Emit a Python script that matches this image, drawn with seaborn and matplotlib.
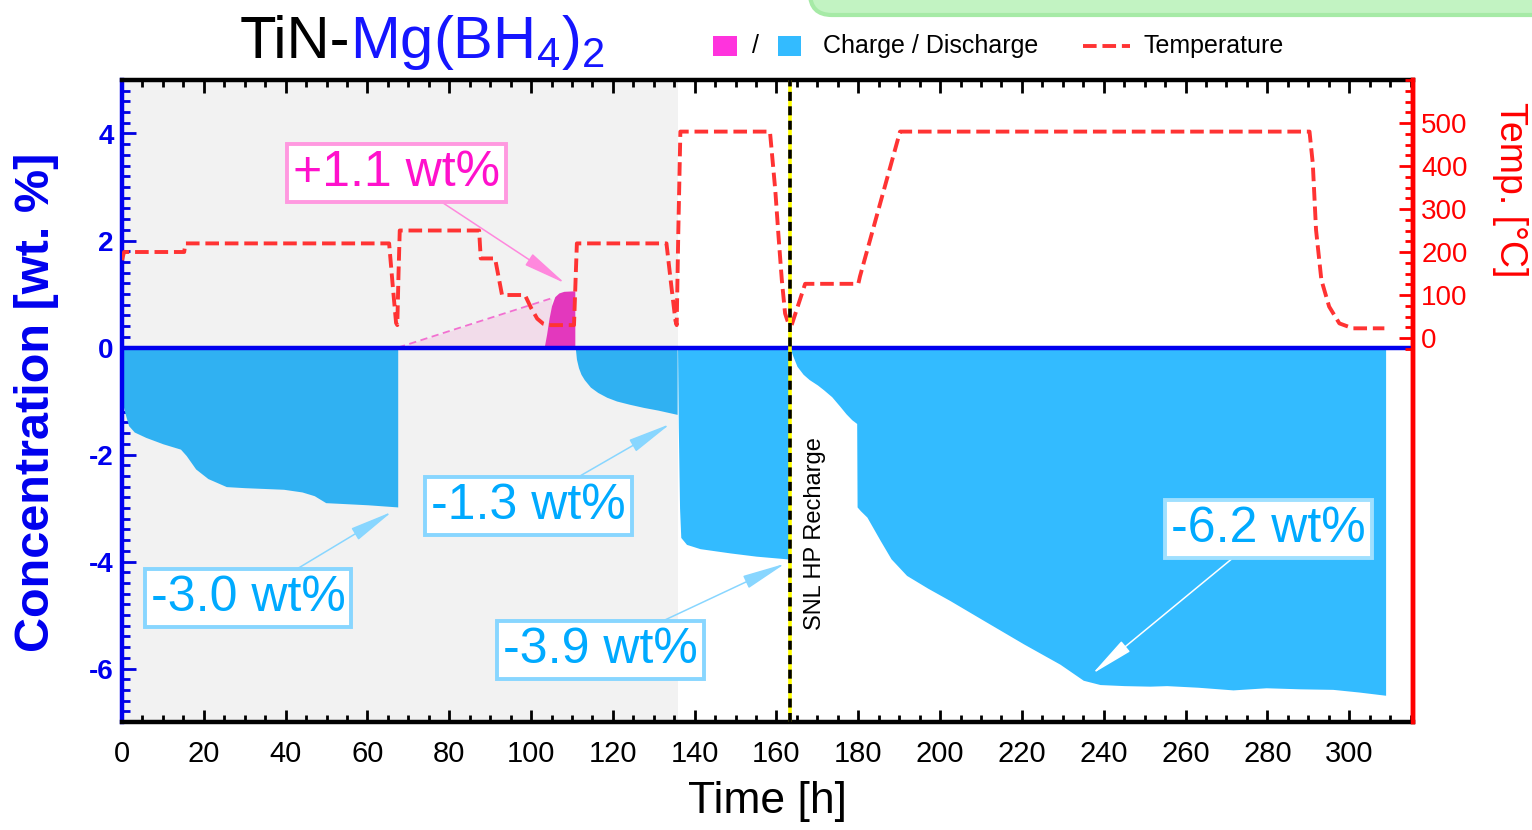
import numpy as np
import matplotlib
matplotlib.use("Agg")
import matplotlib.pyplot as plt
from matplotlib.patches import Rectangle, FancyBboxPatch
from matplotlib.lines import Line2D
from matplotlib.ticker import MultipleLocator, FixedLocator
import seaborn as sns

# ---------------- data ----------------
# discharge (hydrogen release) envelopes, time [h] / concentration [wt.%]
dis1_t = [0, 0.7, 1.6, 3, 5.8, 10, 14.3, 15.7, 18.0, 21, 25.5, 30, 39.5, 44, 47.0, 49.8, 55, 60.1, 67.4]
dis1_c = [-1.0, -1.22, -1.46, -1.58, -1.68, -1.80, -1.90, -2.02, -2.27, -2.45, -2.60, -2.62, -2.65,
          -2.70, -2.77, -2.90, -2.92, -2.94, -2.98]

dis2_t = [110.8, 111.1, 111.6, 112.2, 113, 114.5, 116.3, 118.5, 120.9, 124, 127.5, 131, 135.7]
dis2_c = [0, -0.22, -0.38, -0.5, -0.6, -0.74, -0.84, -0.93, -1.0, -1.06, -1.12, -1.17, -1.25]

dis3_t = [135.8, 136.0, 136.3, 136.6, 138, 141.3, 148.7, 155, 162.5, 163.2]
dis3_c = [0, -1.5, -3.0, -3.55, -3.68, -3.76, -3.84, -3.9, -3.95, -3.96]

dis4_t = [163.3, 164, 165, 166.5, 168, 170, 171.5, 173.5, 175.5, 177, 178.4, 179.6, 179.7, 180.5,
          182.1, 185.3, 188, 191.8, 197, 202.4, 210.6, 220.4, 229.3, 235, 239.1, 245, 251.3, 255.4,
          263, 271.6, 279.7, 288, 296, 302.4, 308.9]
dis4_c = [0, -0.16, -0.35, -0.5, -0.6, -0.7, -0.79, -0.92, -1.1, -1.24, -1.35, -1.42, -2.98, -3.05,
          -3.17, -3.6, -3.95, -4.26, -4.5, -4.73, -5.1, -5.54, -5.92, -6.22, -6.3, -6.32, -6.33,
          -6.32, -6.35, -6.4, -6.36, -6.38, -6.39, -6.44, -6.5]

# charge (hydrogen uptake)
chg_t = [103.2, 103.8, 104.4, 105.0, 105.8, 106.8, 108, 110.7]
chg_c = [0, 0.25, 0.55, 0.78, 0.95, 1.02, 1.05, 1.06]
chg_span_t = [67.5, 105.0]
chg_span_c = [0, 0.92]

# temperature profile, time [h] / temperature [degC]
temp_t = [0, 0.5, 15.2, 15.5, 65.3, 66.2, 67.0, 67.3, 67.6, 67.9, 87.3, 87.7, 91.2, 92.9, 98.5,
          100.0, 101.5, 103, 104.1, 110.5, 110.9, 111.2, 133.1, 134.3, 135.3, 135.6, 136.0, 136.5,
          158.4, 159.7, 160.5, 161.3, 162.1, 162.9, 163.7, 167, 180, 180.4, 190.2, 290.3, 291.1,
          291.9, 293.2, 295.1, 297.6, 300.9, 308.6]
temp_c = [181, 200, 200, 220, 220, 120, 35, 30, 150, 250, 250, 185, 185, 100, 100,
          70, 45, 33, 30, 30, 140, 220, 220, 120, 40, 30, 250, 480,
          480, 344, 236, 135, 57, 34, 30, 126, 126, 143, 480, 480, 406,
          251, 135, 73, 34, 22.5, 22.5]

# annotated capacities: label, text position, arrow tip
label_text = ["+1.1 wt%", "-3.0 wt%", "-1.3 wt%", "-3.9 wt%", "-6.2 wt%"]
label_xy = [(67.2, 3.27), (30.8, -4.69), (99.3, -2.96), (116.9, -5.66), (280.2, -3.39)]
label_tip = [(108.3, 1.2), (66.0, -3.07), (134.0, -1.43), (162.1, -4.04), (237.2, -6.1)]

recharge_t = 163.3
shade_end = 135.8

# ---------------- style ----------------
sns.set_theme(style="white")
plt.rcParams["font.family"] = ["Liberation Sans", "DejaVu Sans"]
plt.rcParams["axes.unicode_minus"] = False
plt.rcParams["mathtext.default"] = "regular"

BLUE_FILL = "#33bbff"
MAGENTA = "#f03cc8"
RED = "#ff3333"
AX_BLUE = "#0000ee"
LBL_BLUE = "#00aaff"

W, H = 1532, 830
fig = plt.figure(figsize=(W / 100, H / 100), dpi=100)
ax = fig.add_axes([122 / W, 1 - 722 / H, (1413 - 122) / W, (722 - 80) / H])

# discharge areas
for t, c in [(dis1_t, dis1_c), (dis2_t, dis2_c), (dis3_t, dis3_c), (dis4_t, dis4_c)]:
    ax.fill_between(t, 0, c, color=BLUE_FILL, lw=0, zorder=2)

# charge areas
ax.fill_between(chg_span_t, 0, chg_span_c, color="#ff66cc", alpha=0.15, lw=0, zorder=2)
ax.plot(chg_span_t, chg_span_c, color="#ff77dd", lw=1.3, ls=(0, (4, 2.5)), zorder=2)
ax.fill_between(chg_t, 0, chg_c, color=MAGENTA, lw=0, zorder=2)

# shaded first-cycles region
ax.axvspan(0, shade_end, color="black", alpha=0.05, lw=0, zorder=2.5)
ax.axhline(0, color=AX_BLUE, lw=3.2, zorder=3)

ax.set_xlim(0, 315.6)
ax.set_ylim(-7, 5)
ax.xaxis.set_major_locator(MultipleLocator(20))
ax.xaxis.set_minor_locator(MultipleLocator(5))
ax.yaxis.set_major_locator(FixedLocator([-6, -4, -2, 0, 2, 4]))
ax.yaxis.set_minor_locator(MultipleLocator(0.2))
ax.tick_params(axis="x", which="both", direction="in", top=True, bottom=True, colors="black",
               width=2, labelsize=21, pad=13)
ax.tick_params(axis="x", which="major", length=9)
ax.tick_params(axis="x", which="minor", length=5)
ax.tick_params(axis="y", which="both", direction="in", left=True, right=False, colors=AX_BLUE,
               width=2, labelsize=20, pad=6)
ax.tick_params(axis="y", which="major", length=10)
ax.tick_params(axis="y", which="minor", length=6)
for lbl in ax.get_yticklabels():
    lbl.set_fontweight("bold")

for side, col in [("left", AX_BLUE), ("right", "red"), ("top", "black"), ("bottom", "black")]:
    ax.spines[side].set_color(col)
    ax.spines[side].set_linewidth(3.2)
    ax.spines[side].set_visible(True)

ax.set_xlabel("Time [h]", fontsize=32, color="black", labelpad=9)
fig.text(37 / W, 1 - 402 / H, "Concentration [wt. %]", rotation=90, ha="center", va="center",
         fontsize=35, fontweight="bold", color=AX_BLUE)

# capacity annotations
for i, (txt, xy, tip) in enumerate(zip(label_text, label_xy, label_tip)):
    if txt.startswith("+"):
        tcol, ecol, acol = "#ff11cc", "#ff99e0", "#ff88dd"
    elif i == 4:
        tcol, ecol, acol = LBL_BLUE, "#9fe0ff", "white"
    else:
        tcol, ecol, acol = LBL_BLUE, "#88d6ff", "#88d6ff"
    ax.annotate(txt, xy=tip, xytext=xy, ha="center", va="center", fontsize=36, color=tcol,
                zorder=6,
                bbox=dict(boxstyle="square,pad=0.12", fc="white", ec=ecol, lw=2.8),
                arrowprops=dict(arrowstyle="-|>,head_length=0.9,head_width=0.14", color=acol,
                                lw=1.1, shrinkA=0, shrinkB=0, mutation_scale=30))

# temperature on secondary axis
ax2 = ax.twinx()
sns.lineplot(x=temp_t, y=temp_c, ax=ax2, color=RED, lw=2.8, linestyle=(0, (3.5, 1.5)),
             sort=False, estimator=None, legend=False)
ax2.set_ylim(-893, 600)
ax2.set_xlim(0, 315.6)
ax2.yaxis.set_major_locator(FixedLocator([0, 100, 200, 300, 400, 500]))
ax2.yaxis.set_minor_locator(FixedLocator(list(range(-25, 601, 25))))
ax2.tick_params(axis="y", which="both", direction="in", right=True, left=False, colors="red",
                width=2, labelsize=20, pad=6)
ax2.tick_params(axis="y", which="major", length=10)
ax2.tick_params(axis="y", which="minor", length=6)
ax2.set_ylabel("")
for side in ["left", "top", "bottom"]:
    ax2.spines[side].set_visible(False)
ax2.spines["right"].set_color("red")
ax2.spines["right"].set_linewidth(3.2)
ax2.grid(False)
ax.grid(False)

# high-pressure recharge marker
ax2.axvline(recharge_t, color="yellow", lw=2.6, zorder=5)
ax2.axvline(recharge_t, color="black", lw=2.6, ls=(0, (2.5, 1.5)), zorder=6)
ax.text(169.4, -3.48, "SNL HP Recharge", rotation=90, ha="center", va="center", fontsize=17,
        color="black", zorder=6)

fig.text(1510 / W, 1 - 190 / H, "Temp. [°C]", rotation=270, ha="center", va="center",
         fontsize=27, color="red")

# title
fig.text(350 / W, 1 - 58 / H, "TiN-", ha="right", va="baseline", fontsize=43, color="black")
fig.text(350 / W, 1 - 58 / H, r"Mg(BH$_4$)$_2$", ha="left", va="baseline", fontsize=43,
         color="#1515ff")

# legend
fig.add_artist(Rectangle((713 / W, 1 - 56 / H), 24 / W, 20 / H, transform=fig.transFigure,
                         color="#ff33dd", lw=0))
fig.text(755 / W, 1 - 46 / H, "/", ha="center", va="center", fontsize=18, color="black")
fig.add_artist(Rectangle((778 / W, 1 - 56 / H), 23 / W, 20 / H, transform=fig.transFigure,
                         color=BLUE_FILL, lw=0))
fig.text(823 / W, 1 - 46 / H, "Charge / Discharge", ha="left", va="center", fontsize=18,
         color="black")
fig.add_artist(Line2D([1083 / W, 1130 / W], [1 - 46 / H] * 2, transform=fig.transFigure,
                      color=RED, lw=2.8, ls=(0, (3.5, 1.5))))
fig.text(1143 / W, 1 - 46 / H, "Temperature", ha="left", va="center", fontsize=18,
         color="black")

# green panel edge at top right
fig.add_artist(FancyBboxPatch((8.1, (H - 15) / 100), 8.0, 1.0,
                              boxstyle="round,pad=0,rounding_size=0.22",
                              transform=fig.dpi_scale_trans, fc="#c2f3c2", ec="#a6eaa6", lw=3,
                              clip_on=False))

fig.savefig("out.png", dpi=100)
